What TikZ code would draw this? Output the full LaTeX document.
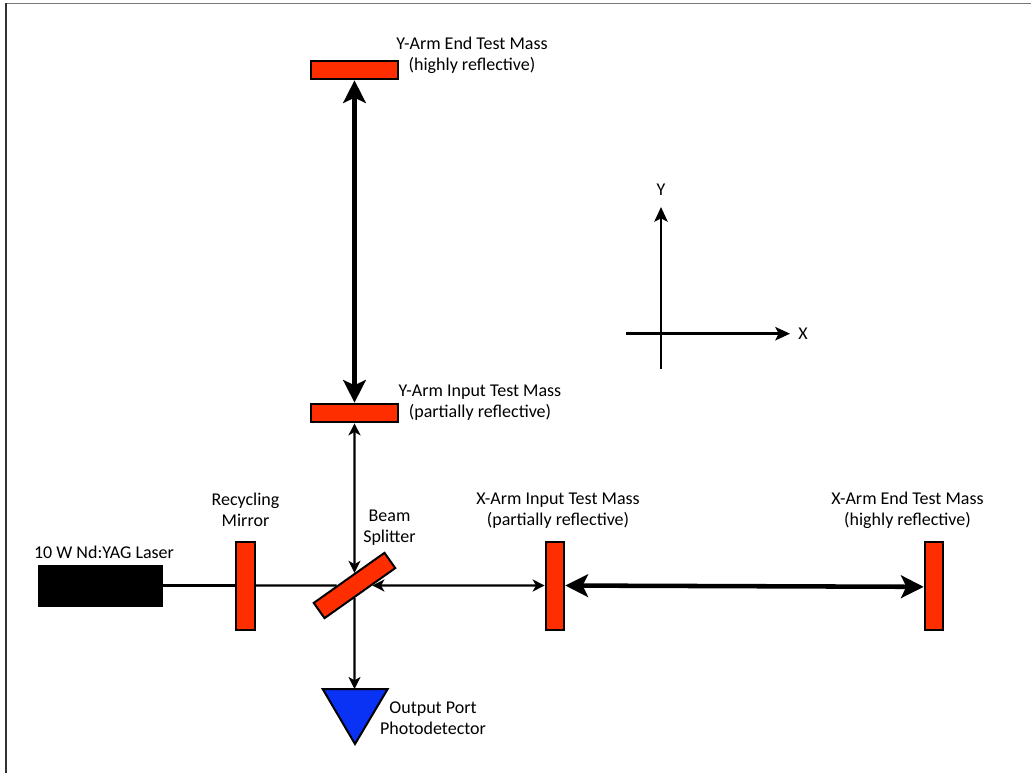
\documentclass[tikz,border=0pt]{standalone}
\usepackage{fontspec}
\setmainfont{Carlito}
\usetikzlibrary{arrows.meta}
\definecolor{mirrorred}{RGB}{255,46,0}
\definecolor{detblue}{RGB}{10,50,245}
\tikzset{
  mirror/.style={draw,line width=1.5pt,fill=mirrorred,inner sep=0pt,minimum width=65pt,minimum height=14pt},
  vmirror/.style={mirror,minimum width=14pt,minimum height=66pt},
  txt/.style={align=center,font=\fontsize{13.5}{16}\selectfont,inner sep=0pt},
  beamline/.style={line width=1.8pt},
  beam/.style={beamline,{Stealth[length=9pt,width=9pt,inset=2.5pt]}-{Stealth[length=9pt,width=9pt,inset=2.5pt]}},
  beamout/.style={beamline,-{Stealth[length=9pt,width=9pt,inset=2.5pt]}},
  armbeam/.style={line width=3.4pt,{Stealth[length=17pt,width=17pt,inset=4pt]}-{Stealth[length=17pt,width=17pt,inset=4pt]}},
}
\begin{document}
\begin{tikzpicture}[x=0.75pt,y=0.75pt,yscale=-1,xscale=1]
\useasboundingbox (0,0) rectangle (1031,773);

% frame
\draw [color={rgb, 255:red, 120; green, 120; blue, 120 },line width=1.1pt] (6,3.5) -- (1031,3.5);
\draw [color={rgb, 255:red, 50; green, 50; blue, 50 },line width=1pt] (6,773) -- (6,3);

% optics
\node [draw,fill=black,inner sep=0pt,minimum width=93pt,minimum height=31pt] (laser) at (100,585.5) {};
\node [vmirror] (recycle) at (245.5,585.5) {};
\node [mirror,rotate=35.3] (splitter) at (354.5,585.5) {};
\node [vmirror] (xinput) at (555,585.5) {};
\node [vmirror] (xend) at (934,585.5) {};
\node [mirror] (yinput) at (354.5,413) {};
\node [mirror] (yend) at (354.5,70) {};
% detector
\coordinate (dettop) at (354.5,689);
\draw [line width=1.5pt,fill=detblue,line join=miter] (322.7,689) -- (387.7,689) -- (355,744) -- cycle;

% beams
\draw [beamline] (laser) -- (recycle);
\draw [beamline] (recycle) -- (splitter);
\draw [beam] (yinput) -- (splitter);
\draw [beam] (splitter) -- (xinput);
\draw [beamout] (splitter) -- (dettop);
\draw [armbeam] (yend) -- (yinput);
\draw [armbeam] (xinput) -- ([yshift=1pt]xend.west);

% axes
\coordinate (axleft) at (626,333.7);
\coordinate (axright) at (790,333.7);
\coordinate (axtop) at (661,207);
\coordinate (axbot) at (661,369);
\draw [beamline,-{Stealth[length=11pt,width=10pt,inset=2.5pt]}] (axleft) -- (axright);
\draw [beamline,-{Stealth[length=11pt,width=10pt,inset=2.5pt]}] (axbot) -- (axtop);

% Text Node
\node [txt] (ylabel) at (661,189.5) {Y};
\node [txt] (xlabel) at (803,334) {X};
\node [txt] (yendtxt) at (472,55) {Y-Arm End Test Mass\\(highly reflective)};
\node [txt] (yinputtxt) at (480,402.5) {Y-Arm Input Test Mass\\(partially reflective)};
\node [txt] (recycletxt) at (245.5,510) {Recycling\\Mirror};
\node [txt] (splittertxt) at (389.5,527.5) {Beam\\Splitter};
\node [txt] (xinputtxt) at (558,510.5) {X-Arm Input Test Mass\\(partially reflective)};
\node [txt] (xendtxt) at (907.5,510.5) {X-Arm End Test Mass\\(highly reflective)};
\node [txt] (lasertxt) at (104,552) {10 W Nd:YAG Laser};
\node [txt] (dettxt) at (433,718.5) {Output Port\\Photodetector};
\end{tikzpicture}
\end{document}
